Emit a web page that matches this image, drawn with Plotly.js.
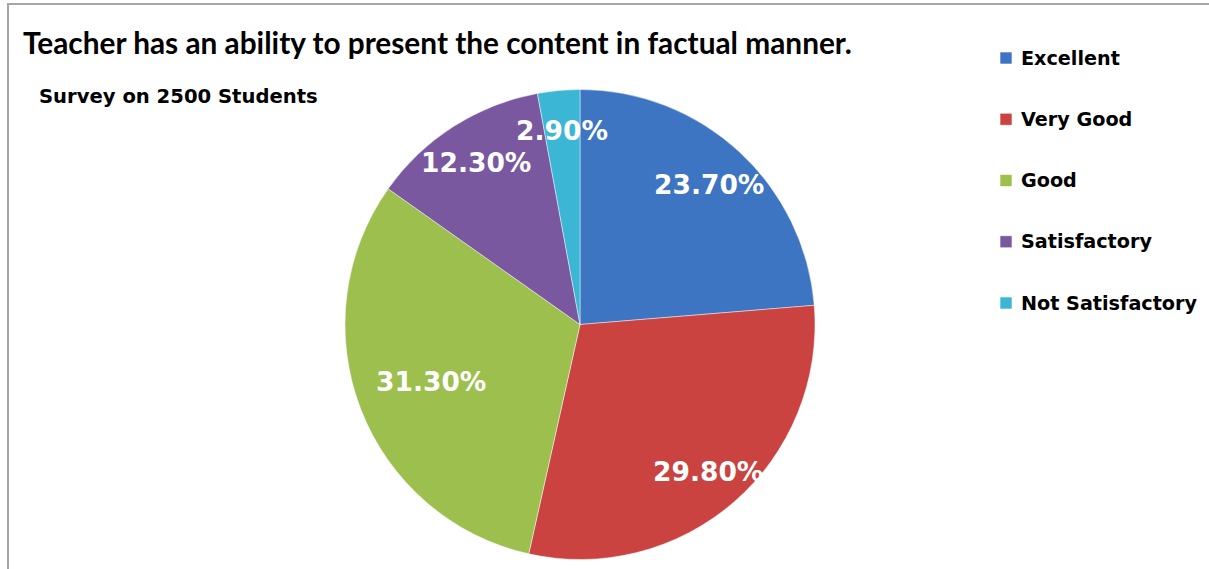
<!DOCTYPE html>
<html>
<head>
<meta charset="utf-8">
<script src="https://cdn.plot.ly/plotly-3.0.1.min.js"></script>
<style>
  html, body { margin: 0; padding: 0; background: #ffffff; }
  #chart { width: 1209px; height: 569px; }
</style>
</head>
<body>
<div id="chart"></div>
<script>
const categories = ["Excellent", "Very Good", "Good", "Satisfactory", "Not Satisfactory"];
const percentValues = [23.7, 29.8, 31.3, 12.3, 2.9];
const sliceColors = ["#3D75C2", "#CB4340", "#9CBF4E", "#7A58A0", "#3CB6D5"];
const chartTitle = "Teacher has an ability to present the content in factual manner.";
const chartSubtitle = "Survey on 2500 Students";

// style: radial position of each data label, as a fraction of the radius
const labelRadiusFrac = [0.81, 0.83, 0.68, 0.82, 0.83];

const W = 1209, H = 569;
const px = x => x / W;
const py = y => 1 - y / H;

const TITLE_FONT = "Lato, 'Open Sans', sans-serif";
const FONT = "'DejaVu Sans', sans-serif";

// pie geometry (pixels)
const cx = 580, cy = 324.5, R = 235;

const pie = {
  type: "pie",
  labels: categories,
  values: percentValues,
  sort: false,
  direction: "clockwise",
  rotation: 0,
  marker: { colors: sliceColors, line: { color: "rgba(255,255,255,0.45)", width: 1 } },
  textinfo: "none",
  hoverinfo: "label+value",
  showlegend: false,
  domain: { x: [px(cx - R), px(cx + R)], y: [py(cy + R), py(cy - R)] }
};

const annotations = [
  { text: "<b>" + chartTitle + "</b>", xref: "paper", yref: "paper", x: px(21), y: py(42),
    xanchor: "left", yanchor: "middle", showarrow: false,
    font: { family: TITLE_FONT, size: 29.8, color: "#000000" } },
  { text: "<b>" + chartSubtitle + "</b>", xref: "paper", yref: "paper", x: px(37), y: py(96),
    xanchor: "left", yanchor: "middle", showarrow: false,
    font: { family: FONT, size: 19.6, color: "#000000" } }
];
const shapes = [
  { type: "rect", xref: "paper", yref: "paper", x0: px(8), x1: 1.2, y0: -0.2, y1: py(4),
    line: { color: "#a6a6a6", width: 2 }, fillcolor: "rgba(0,0,0,0)" }
];

// data labels placed along each slice's mid-angle
const total = percentValues.reduce((a, b) => a + b, 0);
let cum = 0;
percentValues.forEach((v, i) => {
  const theta = 2 * Math.PI * (cum + v / 2) / total;
  cum += v;
  const r = R * labelRadiusFrac[i];
  annotations.push({ text: "<b>" + v.toFixed(2) + "%</b>", xref: "paper", yref: "paper",
    x: px(cx + r * Math.sin(theta)), y: py(cy - r * Math.cos(theta)),
    xanchor: "center", yanchor: "middle", showarrow: false,
    font: { family: FONT, size: 26.5, color: "#ffffff" } });
});

// custom legend built from the category / colour arrays
const legendTop = 58, legendStep = 61.25;
categories.forEach((c, i) => {
  const yc = legendTop + i * legendStep;
  shapes.push({ type: "rect", xref: "paper", yref: "paper",
    x0: px(1000), x1: px(1012), y0: py(yc + 6), y1: py(yc - 6),
    fillcolor: sliceColors[i], line: { color: "rgba(255,255,255,0.6)", width: 1 } });
  annotations.push({ text: "<b>" + c + "</b>", xref: "paper", yref: "paper",
    x: px(1019), y: py(yc), xanchor: "left", yanchor: "middle", showarrow: false,
    font: { family: FONT, size: 19.2, color: "#000000" } });
});

const layout = {
  width: W, height: H,
  margin: { l: 0, r: 0, t: 0, b: 0 },
  paper_bgcolor: "#ffffff",
  showlegend: false,
  annotations: annotations,
  shapes: shapes
};

Plotly.newPlot("chart", [pie], layout, { displayModeBar: false, staticPlot: true });
</script>
</body>
</html>
